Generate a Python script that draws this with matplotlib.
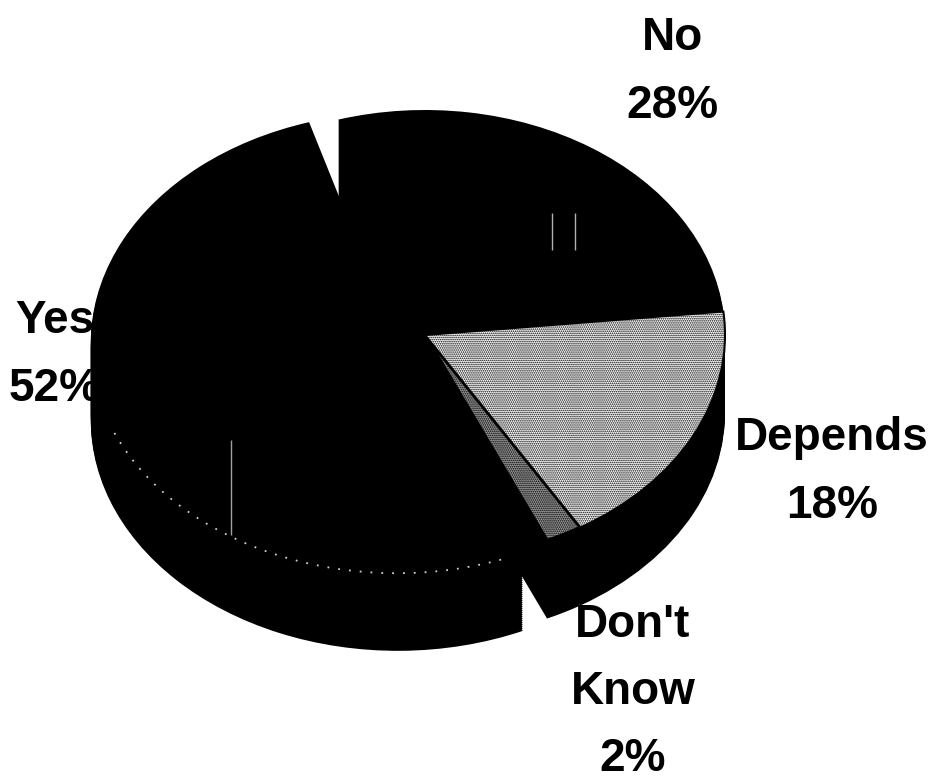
import matplotlib
matplotlib.use("Agg")
import matplotlib.pyplot as plt
from matplotlib.patches import Arc

labels = ["No\n28%", "Yes\n52%", "Don't\nKnow\n2%", "Depends\n18%"]
values = [28, 52, 2, 18]
explode = [0, 29, 0, 0]  # pie shifts wedges by this in data units

yscale = 0.75  # squash so the pie looks tilted
cx = 425
cy = 335 / yscale
depth = 78
start = 6
yes_radius = 307


def draw_pie(cy_now, colors, z):
	w, _ = ax.pie(values, explode=explode, startangle=start, radius=300,
		center=(cx, -cy_now), colors=colors, normalize=True)
	for p in w:
		p.set_zorder(z)
	w[1].set_radius(yes_radius)
	return w


plt.rcParams["font.family"] = ["Liberation Sans", "DejaVu Sans"]
plt.rcParams["hatch.linewidth"] = 0.8
fig = plt.figure(figsize=(9.3, 7.84), dpi=100)
ax = fig.add_axes([0, 0, 1, 1])

# side of the pie, swept downwards
for d in range(depth, 0, -2):
	draw_pie(cy + d / yscale, ["black"] * 4, 3)

w = draw_pie(cy, ["black", "black", "#9a9a9a", "white"], 4)
w[3].set_hatch("........")
w[3].set_edgecolor("black")
w[3].set_linewidth(1.5)
w[2].set_hatch("........")
w[2].set_edgecolor("black")
w[2].set_linewidth(2.5)

ax.set_aspect("auto")
ax.set_xlim(0, 930)
ax.set_ylim(-784 / yscale, 0)
ax.axis("off")

# speckled rim of the yes slice
ax.add_patch(Arc((397, -343 / yscale), 2 * yes_radius, 2 * yes_radius, theta1=203, theta2=291,
	color="#cfcfcf", lw=1.3, ls=(0, (1, 5)), zorder=5))

# scanner streaks
ax.vlines(231, -535 / yscale, -440 / yscale, color="#a0a0a0", lw=1, zorder=5)
ax.vlines([552, 575], -250 / yscale, -213 / yscale, color="#b0b0b0", lw=1, zorder=5)

# labels sit behind the pie
label_pos = [(672, 72), (55, 355), (633, 692), (832, 472)]
for t, (x, y) in zip(labels, label_pos):
	ax.text(x, -y / yscale, t, ha="center", va="center", fontsize=33,
		fontweight="bold", color="black", zorder=1, linespacing=1.68)

fig.savefig("out.png", dpi=100)
